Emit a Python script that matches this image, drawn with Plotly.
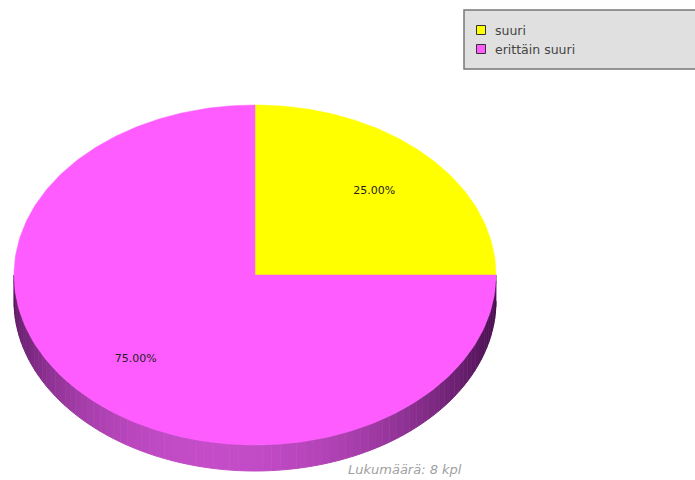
import math
import plotly.graph_objects as go

# Answer counts per category
labels = ["suuri", "erittäin suuri"]
values = [2, 6]
top_colors = ["#FFFF00", "#FF5CFF"]
# side wall shades (dark edge, lit middle) per category
wall_dark = ["#7a7a00", "#4a1050"]
wall_light = ["#d8d800", "#c44cc8"]
caption_unit = "kpl"

W, H = 695, 480
CX, CY = 255, 275      # centre of the top face
RX, RY = 241, 170      # ellipse radii
DEPTH = 26             # thickness of the disc
LABEL_R = 0.7          # relative radius for the percentage labels
FONT = "DejaVu Sans, Verdana, sans-serif"

# legend box layout (pixels)
LEG_X0, LEG_Y0, LEG_X1, LEG_Y1 = 464, 10, 700, 69
KEY_X, TEXT_X, ROW0, ROW_GAP = 481, 493, 30, 19


def pt(theta_deg, dy=0.0, r=1.0):
    """Point on the ellipse; angle clockwise from 12 o'clock."""
    t = math.radians(theta_deg)
    return CX + r * RX * math.sin(t), CY - r * RY * math.cos(t) + dy


def mix(c1, c2, f):
    a = [int(c1[i:i + 2], 16) for i in (1, 3, 5)]
    b = [int(c2[i:i + 2], 16) for i in (1, 3, 5)]
    return "rgb({},{},{})".format(*[round(x + (y - x) * f) for x, y in zip(a, b)])


total = sum(values)
spans = []
start = 0.0
for v in values:
    sweep = 360.0 * v / total
    spans.append((start, start + sweep))
    start += sweep

fig = go.Figure()

# side wall: only the front half (3 o'clock -> 9 o'clock) is visible
STEP = 2.0
for i, (a0, a1) in enumerate(spans):
    lo, hi = max(a0, 90.0), min(a1, 270.0)
    a = lo
    while a < hi - 1e-9:
        b = min(a + STEP, hi)
        mid = (a + b) / 2
        f = max(0.0, math.cos(math.radians((mid - 190.0) / 95.0 * 90.0)))
        col = mix(wall_dark[i], wall_light[i], f ** 1.6)
        xs, ys = [], []
        for ang in (a, b):
            x, y = pt(ang)
            xs.append(x); ys.append(y)
        for ang in (b, a):
            x, y = pt(ang, DEPTH)
            xs.append(x); ys.append(y)
        fig.add_trace(go.Scatter(x=xs, y=ys, fill="toself", fillcolor=col,
                                 mode="lines", line=dict(color=col, width=1),
                                 hoverinfo="skip", showlegend=False))
        a = b

# top face slices
for i, (a0, a1) in enumerate(spans):
    n = max(2, int((a1 - a0) / 1.0))
    xs, ys = [CX], [CY]
    for k in range(n + 1):
        x, y = pt(a0 + (a1 - a0) * k / n)
        xs.append(x); ys.append(y)
    xs.append(CX); ys.append(CY)
    fig.add_trace(go.Scatter(x=xs, y=ys, fill="toself", fillcolor=top_colors[i],
                             mode="lines", line=dict(color=top_colors[i], width=0.5),
                             hoverinfo="skip", showlegend=False))

# percentage labels
lx, ly, lt = [], [], []
for v, (a0, a1) in zip(values, spans):
    x, y = pt((a0 + a1) / 2, r=LABEL_R)
    lx.append(x); ly.append(y)
    lt.append("{:.2f}%".format(100.0 * v / total))
fig.add_trace(go.Scatter(x=lx, y=ly, text=lt, mode="text",
                         textfont=dict(family=FONT, size=11, color="#222"),
                         hoverinfo="skip", showlegend=False))

# legend keys
rows = [ROW0 + ROW_GAP * k for k in range(len(labels))]
fig.add_trace(go.Scatter(x=[KEY_X] * len(labels), y=rows, mode="markers",
                         marker=dict(symbol="square", size=9, color=top_colors,
                                     line=dict(color="#333", width=1)),
                         hoverinfo="skip", showlegend=False))

annotations = [dict(x=TEXT_X, y=r, xref="x", yref="y", xanchor="left", yanchor="middle",
                    showarrow=False, text=lab,
                    font=dict(family=FONT, size=12.5, color="#444"))
               for lab, r in zip(labels, rows)]
annotations.append(dict(x=405, y=469, xref="x", yref="y", showarrow=False,
                        text="<i>Lukumäärä: {} {}</i>".format(total, caption_unit),
                        font=dict(family=FONT, size=13, color="#a0a0a0")))

fig.update_layout(
    width=W, height=H,
    margin=dict(l=0, r=0, t=0, b=0),
    paper_bgcolor="white", plot_bgcolor="white",
    xaxis=dict(range=[0, W], visible=False, fixedrange=True),
    yaxis=dict(range=[H, 0], visible=False, fixedrange=True),
    showlegend=False,
    shapes=[dict(type="rect", xref="x", yref="y", x0=LEG_X0, y0=LEG_Y0, x1=LEG_X1, y1=LEG_Y1,
                 fillcolor="#e0e0e0", line=dict(color="#777", width=1.5), layer="below")],
    annotations=annotations,
)

fig.write_html("out.html")
